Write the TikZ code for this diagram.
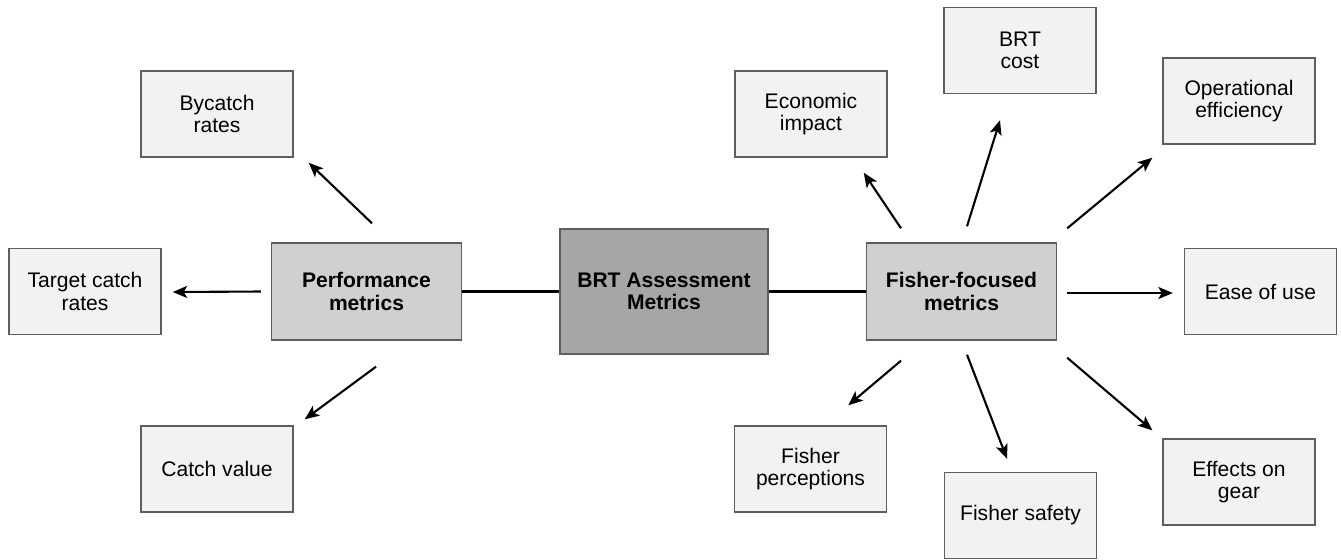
\documentclass[tikz,border=0pt]{standalone}
\usepackage{fontspec}
\setmainfont{Liberation Sans}
\usetikzlibrary{arrows.meta}
\definecolor{leafgray}{HTML}{F2F2F2}
\definecolor{groupgray}{HTML}{D0D0D0}
\definecolor{maingray}{HTML}{A6A6A6}
\definecolor{edgegray}{HTML}{5E5E5E}

\begin{document}
\begin{tikzpicture}[x=0.02cm, y=-0.02cm]
	\tikzset{
	  BoxStyle/.style = { draw = edgegray, line width = 0.8pt, align = center,
	                      inner sep = 2pt, font = \fontsize{12}{12.8}\selectfont },
	  LeafStyle/.style = { BoxStyle, fill = leafgray,
	                       minimum width = 3.04cm, minimum height = 1.72cm },
	  GroupStyle/.style = { BoxStyle, fill = groupgray, font = \fontsize{12}{12.8}\selectfont\bfseries,
	                        minimum width = 3.8cm, minimum height = 1.94cm },
	  MainStyle/.style = { BoxStyle, fill = maingray, font = \fontsize{12}{12.8}\selectfont\bfseries,
	                       minimum width = 4.16cm, minimum height = 2.5cm },
	  LinkStyle/.style = { line width = 1.2pt, black },
	  ArrowStyle/.style = { LinkStyle, -{Stealth[length = 2.9mm, width = 2.4mm, inset = 0.7mm]} } }
	\useasboundingbox (0, 0) rectangle (1341, 559);
%	\draw[help lines, step = 100] (0, 0) grid (1341, 559);
	\node[MainStyle]  (brt)    at (664, 291.5)   {BRT Assessment\\Metrics};
	\node[GroupStyle] (perf)   at (366.5, 291.5) {Performance\\metrics};
	\node[GroupStyle] (fisher) at (961.5, 291.5) {Fisher-focused\\metrics};
	% performance side
	\node[LeafStyle] (bycatch)  at (217, 114)   {Bycatch\\rates};
	\node[LeafStyle] (target)   at (85, 291.5)  {Target catch\\rates};
	\node[LeafStyle] (catchval) at (217, 469)   {Catch value};
	% fisher side
	\node[LeafStyle] (econ)     at (811, 114)    {Economic\\impact};
	\node[LeafStyle] (cost)     at (1020, 50.5)  {BRT\\cost};
	\node[LeafStyle] (oper)     at (1239, 101)   {Operational\\efficiency};
	\node[LeafStyle] (ease)     at (1260.5, 291.5) {Ease of use};
	\node[LeafStyle] (gear)     at (1239, 482)   {Effects on\\gear};
	\node[LeafStyle] (safety)   at (1020.5, 515.5) {Fisher safety};
	\node[LeafStyle] (percep)   at (810.5, 469)  {Fisher\\perceptions};
	\draw[LinkStyle] (perf.east) -- (brt.west);
	\draw[LinkStyle] (brt.east) -- (fisher.west);
	\draw[ArrowStyle] ([shift = {(5.5, -19)}]perf.north) -- ([shift = {(15, 5)}]bycatch.south east);
	\draw[ArrowStyle] ([shift = {(-10, 0)}]perf.west) -- ([shift = {(11, 0.5)}]target.east);
	\draw[ArrowStyle] ([shift = {(9.5, 26)}]perf.south) -- ([shift = {(11, -6)}]catchval.north east);
	\draw[ArrowStyle] ([shift = {(-60.5, -14)}]fisher.north) -- ([shift = {(-24, 15)}]econ.south east);
	\draw[ArrowStyle] ([shift = {(5.5, -16)}]fisher.north) -- ([shift = {(-20, 26)}]cost.south);
	\draw[ArrowStyle] ([shift = {(10, -14)}]fisher.north east) -- ([shift = {(-10, 13)}]oper.south west);
	\draw[ArrowStyle] ([shift = {(10, 1.5)}]fisher.east) -- ([shift = {(-11, 1.5)}]ease.west);
	\draw[ArrowStyle] ([shift = {(10, 17)}]fisher.south east) -- ([shift = {(-10, -8)}]gear.north west);
	\draw[ArrowStyle] ([shift = {(5.5, 14)}]fisher.south) -- ([shift = {(-13.5, -13)}]safety.north);
	\draw[ArrowStyle] ([shift = {(-60.5, 20)}]fisher.south) -- ([shift = {(-39, -20)}]percep.north east);
\end{tikzpicture}
\end{document}
